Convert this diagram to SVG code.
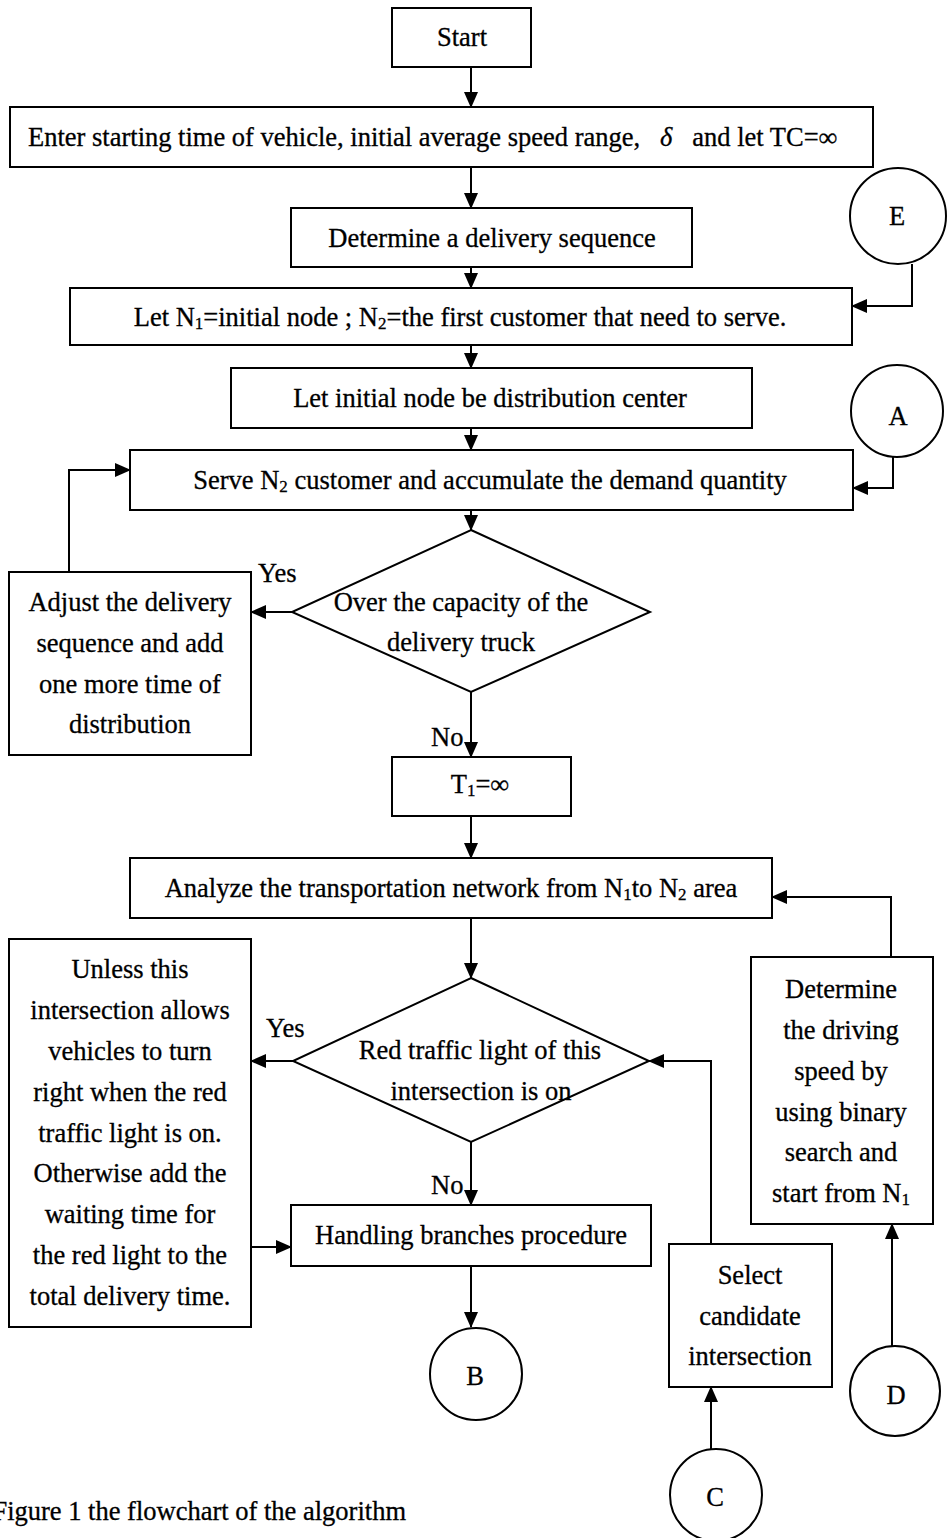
<svg xmlns="http://www.w3.org/2000/svg" width="947" height="1538" viewBox="0 0 947 1538">
<style>
.box{fill:#fff;stroke:#000;stroke-width:2}
.c{fill:#fff;stroke:#000;stroke-width:2}
.ln{fill:none;stroke:#000;stroke-width:2}
text{font-family:"Liberation Serif","Times New Roman",serif;font-size:26.5px;fill:#000;stroke:#000;stroke-width:0.3}
.m{text-anchor:middle}
.sub{font-size:17px}
</style>
<defs>
<marker id="ar" markerUnits="userSpaceOnUse" markerWidth="16" markerHeight="14" refX="15" refY="7" orient="auto">
<path d="M0,0 L16,7 L0,14 Z" fill="#000"/>
</marker>
</defs>
<rect width="947" height="1538" fill="#fff"/>
<g id="connectors">
<path class="ln" d="M471,67 V107" marker-end="url(#ar)"/>
<path class="ln" d="M471,167 V208" marker-end="url(#ar)"/>
<path class="ln" d="M471,267 V288" marker-end="url(#ar)"/>
<path class="ln" d="M471,345 V368" marker-end="url(#ar)"/>
<path class="ln" d="M471,428 V450" marker-end="url(#ar)"/>
<path class="ln" d="M471,510 V530" marker-end="url(#ar)"/>
<path class="ln" d="M912,264 V306 H852" marker-end="url(#ar)"/>
<path class="ln" d="M893,456 V488 H853" marker-end="url(#ar)"/>
<path class="ln" d="M69,572 V470 H130" marker-end="url(#ar)"/>
<path class="ln" d="M292,612 H251" marker-end="url(#ar)"/>
<path class="ln" d="M471,692 V757" marker-end="url(#ar)"/>
<path class="ln" d="M471,816 V858" marker-end="url(#ar)"/>
<path class="ln" d="M471,918 V978" marker-end="url(#ar)"/>
<path class="ln" d="M891,957 V897 H772" marker-end="url(#ar)"/>
<path class="ln" d="M293,1061 H251" marker-end="url(#ar)"/>
<path class="ln" d="M471,1142 V1205" marker-end="url(#ar)"/>
<path class="ln" d="M251,1247 H291" marker-end="url(#ar)"/>
<path class="ln" d="M471,1266 V1327" marker-end="url(#ar)"/>
<path class="ln" d="M711,1244 V1061 H649" marker-end="url(#ar)"/>
<path class="ln" d="M711,1449 V1387" marker-end="url(#ar)"/>
<path class="ln" d="M892,1346 V1224" marker-end="url(#ar)"/>
</g>
<g id="start"><rect class="box" x="392" y="8" width="139" height="59"/><text class="m" x="462" y="46">Start</text></g>
<g id="enter"><rect class="box" x="10" y="107" width="863" height="60"/><text x="28" y="146" xml:space="preserve">Enter starting time of vehicle, initial average speed range,   <tspan font-style="italic">δ</tspan>   and let TC=∞</text></g>
<g id="determine-seq"><rect class="box" x="291" y="208" width="401" height="59"/><text class="m" x="492" y="247">Determine a delivery sequence</text></g>
<g id="let-n1"><rect class="box" x="70" y="288" width="782" height="57"/><text class="m" x="460" y="326">Let N<tspan class="sub" baseline-shift="-20%">1</tspan>=initial node ; N<tspan class="sub" baseline-shift="-20%">2</tspan>=the first customer that need to serve.</text></g>
<g id="let-initial"><rect class="box" x="231" y="368" width="521" height="60"/><text class="m" x="490" y="407">Let initial node be distribution center</text></g>
<g id="serve"><rect class="box" x="130" y="450" width="723" height="60"/><text class="m" x="490" y="489">Serve N<tspan class="sub" baseline-shift="-20%">2</tspan> customer and accumulate the demand quantity</text></g>
<g id="circle-e"><circle class="c" cx="898" cy="216" r="48"/><text class="m" x="897" y="225">E</text></g>
<g id="circle-a"><circle class="c" cx="897" cy="411" r="46"/><text class="m" x="898" y="425">A</text></g>
<g id="capacity"><polygon class="box" points="471,530 650,612 471,692 292,612"/><text class="m" x="461" y="611">Over the capacity of the</text><text class="m" x="461" y="651">delivery truck</text></g>
<g id="adjust"><rect class="box" x="9" y="572" width="242" height="183"/>
<text class="m" x="130" y="611">Adjust the delivery</text><text class="m" x="130" y="652">sequence and add</text><text class="m" x="130" y="693">one more time of</text><text class="m" x="130" y="733">distribution</text></g>
<text x="258" y="582">Yes</text>
<text x="431" y="746">No</text>
<g id="t1"><rect class="box" x="392" y="757" width="179" height="59"/><text class="m" x="480" y="793">T<tspan class="sub" baseline-shift="-20%">1</tspan>=∞</text></g>
<g id="analyze"><rect class="box" x="130" y="858" width="642" height="60"/><text class="m" x="451" y="897">Analyze the transportation network from N<tspan class="sub" baseline-shift="-20%">1</tspan>to N<tspan class="sub" baseline-shift="-20%">2</tspan> area</text></g>
<g id="red-light"><polygon class="box" points="471,978 649,1061 471,1142 293,1061"/><text class="m" x="480" y="1059">Red traffic light of this</text><text class="m" x="481" y="1100">intersection is on</text></g>
<text x="266" y="1037">Yes</text>
<text x="431" y="1194">No</text>
<g id="unless"><rect class="box" x="9" y="939" width="242" height="388"/>
<text class="m" x="130" y="978">Unless this</text>
<text class="m" x="130" y="1019">intersection allows</text>
<text class="m" x="130" y="1060">vehicles to turn</text>
<text class="m" x="130" y="1101">right when the red</text>
<text class="m" x="130" y="1142">traffic light is on.</text>
<text class="m" x="130" y="1182">Otherwise add the</text>
<text class="m" x="130" y="1223">waiting time for</text>
<text class="m" x="130" y="1264">the red light to the</text>
<text class="m" x="130" y="1305">total delivery time.</text></g>
<g id="handling"><rect class="box" x="291" y="1205" width="360" height="61"/><text class="m" x="471" y="1244">Handling branches procedure</text></g>
<g id="circle-b"><circle class="c" cx="476" cy="1374" r="46"/><text class="m" x="475" y="1385">B</text></g>
<g id="select"><rect class="box" x="669" y="1244" width="163" height="143"/>
<text class="m" x="750" y="1284">Select</text><text class="m" x="750" y="1325">candidate</text><text class="m" x="750" y="1365">intersection</text></g>
<g id="circle-c"><circle class="c" cx="716" cy="1495" r="46"/><text class="m" x="715" y="1506">C</text></g>
<g id="determine-speed"><rect class="box" x="751" y="957" width="182" height="267"/>
<text class="m" x="841" y="998">Determine</text><text class="m" x="841" y="1039">the driving</text><text class="m" x="841" y="1080">speed by</text><text class="m" x="841" y="1121">using binary</text><text class="m" x="841" y="1161">search and</text><text class="m" x="841" y="1202">start from N<tspan class="sub" baseline-shift="-20%">1</tspan></text></g>
<g id="circle-d"><circle class="c" cx="895" cy="1391" r="45"/><text class="m" x="896" y="1404">D</text></g>
<text x="406" y="1520" text-anchor="end">Figure 1 the flowchart of the algorithm</text>
</svg>
